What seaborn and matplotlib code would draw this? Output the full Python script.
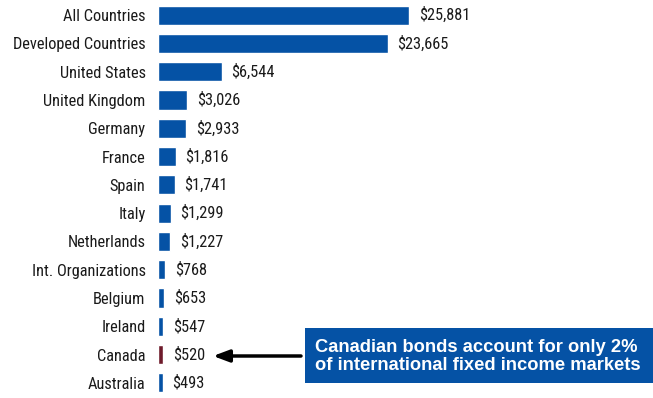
import matplotlib
matplotlib.use("Agg")
import matplotlib.pyplot as plt
import seaborn as sns
import pandas as pd
from matplotlib import font_manager
from matplotlib.font_manager import FontProperties

# Outstanding international bonds by market (US$ billions)
markets = ["All Countries", "Developed Countries", "United States", "United Kingdom",
           "Germany", "France", "Spain", "Italy", "Netherlands", "Int. Organizations",
           "Belgium", "Ireland", "Canada", "Australia"]
amounts = [25881, 23665, 6544, 3026, 2933, 1816, 1741, 1299, 1227, 768, 653, 547, 520, 493]
highlight = "Canada"

BLUE = "#0552A5"
MAROON = "#6E1B2B"

sns.set_theme(style="white")
plt.rcParams["font.family"] = ["Liberation Sans", "DejaVu Sans"]


def narrow_font(size):
    """Pick a condensed sans face if one is installed, else plain Liberation Sans."""
    prefs = ["Liberation Sans Narrow", "Roboto Condensed", "Open Sans Condensed",
             "Noto Sans", "Roboto", "Open Sans", "DejaVu Sans"]
    cands = [f for f in font_manager.fontManager.ttflist
             if ("Narrow" in f.fname or "Condensed" in f.fname or "condensed" in str(f.stretch))
             and f.style == "normal" and f.weight in (400, "normal", "regular")]
    for p in prefs:
        for f in cands:
            if f.name.startswith(p.split()[0]) and (p.split()[-1] in f.name or p.split()[-1] in f.fname or len(p.split()) == 1 or p == f.name):
                return FontProperties(fname=f.fname, size=size)
    if cands:
        return FontProperties(fname=cands[0].fname, size=size)
    return FontProperties(family="Liberation Sans", size=size)


label_font = narrow_font(11.8)

df = pd.DataFrame({"market": markets, "amount": amounts})
palette = {m: (MAROON if m == highlight else BLUE) for m in markets}

fig = plt.figure(figsize=(6.53, 3.98), dpi=100)
ax = fig.add_axes([158 / 653, 1 / 398, 495 / 653, 396 / 398])
sns.barplot(data=df, x="amount", y="market", hue="market", palette=palette,
            legend=False, width=0.68, saturation=1, ax=ax, order=markets)

ax.set_xlim(0, 51000)
ax.set_xlabel("")
ax.set_ylabel("")
ax.set_xticks([])
sns.despine(ax=ax, left=True, bottom=True)
ax.tick_params(axis="y", length=0, pad=9)
for lbl in ax.get_yticklabels():
    lbl.set_fontproperties(label_font)
    lbl.set_color("#1a1a1a")

for container in ax.containers:
    texts = ax.bar_label(container, labels=[f"${v:,.0f}" for v in container.datavalues],
                         padding=7, color="#1a1a1a")
    for t in texts:
        t.set_fontproperties(label_font)

# Callout box on the right with an arrow pointing at the highlighted bar
box_x0, box_x1 = 305 / 653, 1.0
box_y0, box_y1 = 1 - 383 / 398, 1 - 328 / 398
fig.patches.append(plt.Rectangle((box_x0, box_y0), box_x1 - box_x0, box_y1 - box_y0,
                                 transform=fig.transFigure, facecolor=BLUE,
                                 edgecolor="none", zorder=3))
fig.text(315 / 653, (box_y0 + box_y1) / 2 - 0.002,
         "Canadian bonds account for only 2%\nof international fixed income markets",
         color="white", fontsize=13.2, fontweight="bold", family="Liberation Sans",
         va="center", ha="left", linespacing=1.1, zorder=4)

ax.annotate("", xy=(213 / 653, 1 - 356 / 398), xycoords="figure fraction",
            xytext=(301 / 653, 1 - 356 / 398), textcoords="figure fraction",
            arrowprops=dict(arrowstyle="-|>,head_length=0.8,head_width=0.3",
                            color="black", lw=2.5, shrinkA=0, shrinkB=0))

fig.savefig("out.png", dpi=100)
